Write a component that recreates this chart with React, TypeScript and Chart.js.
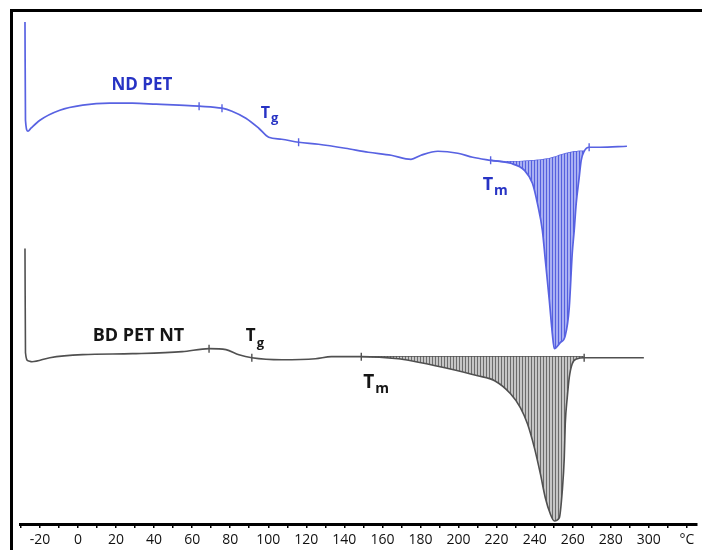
import React, { useEffect, useRef } from "react";
import { Chart, registerables } from "chart.js";

Chart.register(...registerables);

// ---- ND PET (blue) DSC curve: temperature (°C) and heat flow (arbitrary units, endo down)
const ndTemp = [
  -27.84, -27.58, -26.27, -24.71, -20.0, -9.54, 2.48, 16.6, 28.63, 41.18, 53.2, 63.66, 75.69,
  80.92, 88.24, 95.03, 100.26, 107.06, 115.95, 126.41, 140.52, 152.55, 164.58, 175.03, 180.26,
  189.15, 199.61, 207.45, 216.86, 227.32, 234.64, 238.82, 241.44, 244.05, 245.62, 247.71, 249.28,
  250.33, 253.46, 256.08, 258.17, 259.74, 260.78, 261.83, 263.4, 264.45, 266.01, 268.63, 274.38,
  288.5,
];
const ndHeat = [
  501, 403, 392, 395, 403, 413, 418, 420, 420, 419, 418, 417, 415,
  412, 405, 395, 386, 384, 381, 379, 375, 371, 368, 364, 368,
  372, 370, 366, 363, 360, 353, 340, 320, 293, 263, 223, 190,
  175, 181, 188, 216, 270, 293, 320, 346, 363, 372, 376, 376,
  377,
];
// integration baseline under the ND PET melting peak
const ndBaseTemp = [
  216.86, 227.32, 234.64, 238.82, 241.44, 244.05, 245.62, 247.71, 249.28, 250.33, 253.46, 256.08,
  258.17, 259.74, 260.78, 261.83, 263.4, 264.45, 266.01,
];
const ndBaseHeat = [
  363, 361.5, 362, 362.5, 363, 363.5, 364, 364.5, 365.5, 366, 368, 369.5,
  370.5, 371, 371.5, 371.5, 372, 372, 372,
];
const ndMarkTemp = [63.66, 75.69, 115.95, 216.86, 268.63];
const ndMarkHeat = [417, 415, 381, 363, 376];

// ---- BD PET NT (grey) DSC curve
const bdTemp = [
  -27.84, -27.58, -26.27, -24.18, -14.77, 2.48, 28.63, 54.77, 68.89, 77.78, 84.58, 91.37,
  107.06, 124.84, 133.2, 148.89, 168.24, 175.03, 192.81, 210.07, 218.95, 227.32, 232.55, 236.21,
  239.87, 243.01, 245.62, 248.24, 250.33, 252.94, 254.51, 255.56, 256.08, 257.12, 258.17, 259.74,
  262.35, 266.01, 279.61, 297.39,
];
const bdHeat = [
  275, 171, 163, 162, 166, 169, 170, 172, 175, 174, 169, 166,
  164, 165, 167, 167, 165, 163, 156, 148, 143, 130, 116, 100,
  76, 50, 26, 10, 3, 6, 33, 66, 100, 126, 146, 160,
  165, 166, 166, 166,
];
const bdBaseTemp = [
  148.89, 168.24, 175.03, 192.81, 210.07, 218.95, 227.32, 232.55, 236.21, 239.87, 243.01, 245.62,
  248.24, 250.33, 252.94, 254.51, 255.56, 256.08, 257.12, 258.17, 259.74, 262.35, 266.01,
];
const bdBaseHeat = [
  167, 167, 167, 167, 167, 167, 167, 167, 167, 167, 167, 167,
  167, 167, 167, 167, 167, 167, 167, 167, 167, 167, 167,
];
const bdMarkTemp = [68.89, 91.37, 148.89, 266.01];
const bdMarkHeat = [175, 166, 167, 166];

// ---- axis ticks
const tickTemps = [
  -30, -20, -10, 0, 10, 20, 30, 40, 50, 60, 70, 80, 90, 100, 110, 120, 130, 140, 150, 160, 170,
  180, 190, 200, 210, 220, 230, 240, 250, 260, 270, 280, 290, 300, 310, 320,
];
const labeledTemps = [-20, 0, 20, 40, 60, 80, 100, 120, 140, 160, 180, 200, 220, 240, 260, 280, 300];
const unitTemp = 320;
const unitLabel = "°C";

// ---- text annotations (data coordinates)
const BLUE_TEXT = "#2733c4";
const DARK_TEXT = "#151515";
const annotations = [
  { text: "ND PET", sub: "", t: 17.65, v: 433, color: BLUE_TEXT, size: 17, subSize: 0, drop: 0 },
  { text: "T", sub: "g", t: 96.08, v: 405, color: BLUE_TEXT, size: 16, subSize: 13, drop: 4 },
  { text: "T", sub: "m", t: 212.68, v: 333, color: BLUE_TEXT, size: 18, subSize: 14, drop: 5 },
  { text: "BD PET NT", sub: "", t: 7.71, v: 183, color: DARK_TEXT, size: 18, subSize: 0, drop: 0 },
  { text: "T", sub: "g", t: 88.24, v: 183, color: DARK_TEXT, size: 17, subSize: 13, drop: 6 },
  { text: "T", sub: "m", t: 149.93, v: 136, color: DARK_TEXT, size: 19, subSize: 14, drop: 5 },
];

const BLUE = "#5862e2";
const GREY = "#505050";
const FONT = '"Open Sans", "DejaVu Sans", sans-serif';

function pts(xs: number[], ys: number[]) {
  return xs.map((x, i) => ({ x, y: ys[i] }));
}

const labelPlugin = {
  id: "dscLabels",
  afterDatasetsDraw(chart: any) {
    const { ctx, scales } = chart;
    const xs = scales.x;
    const ys = scales.y;
    ctx.save();
    ctx.textAlign = "left";
    ctx.textBaseline = "alphabetic";
    annotations.forEach((a) => {
      const px = xs.getPixelForValue(a.t);
      const py = ys.getPixelForValue(a.v);
      ctx.fillStyle = a.color;
      ctx.font = `bold ${a.size}px ${FONT}`;
      ctx.fillText(a.text, px, py);
      if (a.sub) {
        const w = ctx.measureText(a.text).width;
        ctx.font = `bold ${a.subSize}px ${FONT}`;
        ctx.fillText(a.sub, px + w + 1, py + a.drop);
      }
    });
    ctx.restore();
  },
};

export default function App() {
  const ref = useRef<HTMLCanvasElement>(null);

  useEffect(() => {
    const canvas = ref.current!;
    const c2d = canvas.getContext("2d")!;
    const stripes = (bg: string, fg: string, period: number) => {
      const c = document.createElement("canvas");
      c.width = period;
      c.height = 8;
      const g = c.getContext("2d")!;
      g.fillStyle = bg;
      g.fillRect(0, 0, period, 8);
      g.fillStyle = fg;
      g.fillRect(0, 0, 1, 8);
      return c2d.createPattern(c, "repeat")!;
    };
    const bluePattern = stripes("#a9b0f3", "#5560de", 3);
    const greyPattern = stripes("#c6c6c6", "#6c6c6c", 3);

    const ndPts = pts(ndTemp, ndHeat);
    const ndPeak = ndPts.filter((p) => p.x >= ndBaseTemp[0] && p.x <= ndBaseTemp[ndBaseTemp.length - 1]);
    const bdPts = pts(bdTemp, bdHeat);
    const bdPeak = bdPts.filter((p) => p.x >= bdBaseTemp[0] && p.x <= bdBaseTemp[bdBaseTemp.length - 1]);

    const lineBase = {
      pointRadius: 0,
      pointHoverRadius: 0,
      cubicInterpolationMode: "monotone",
      fill: false,
    };

    const chart = new Chart(canvas, {
      type: "line",
      data: {
        datasets: [
          { ...lineBase, label: "ND PET", data: ndPts, borderColor: BLUE, borderWidth: 1.7 },
          {
            ...lineBase,
            label: "ND peak",
            data: ndPeak,
            borderColor: "rgba(0,0,0,0)",
            borderWidth: 0,
            backgroundColor: bluePattern,
            fill: 2,
          },
          { ...lineBase, label: "ND baseline", data: pts(ndBaseTemp, ndBaseHeat), borderColor: BLUE, borderWidth: 1.5 },
          { ...lineBase, label: "BD PET NT", data: bdPts, borderColor: GREY, borderWidth: 1.6 },
          {
            ...lineBase,
            label: "BD peak",
            data: bdPeak,
            borderColor: "rgba(0,0,0,0)",
            borderWidth: 0,
            backgroundColor: greyPattern,
            fill: 5,
          },
          { ...lineBase, label: "BD baseline", data: pts(bdBaseTemp, bdBaseHeat), borderColor: GREY, borderWidth: 1.4 },
          {
            label: "ND marks",
            data: pts(ndMarkTemp, ndMarkHeat),
            showLine: false,
            pointStyle: "line",
            rotation: 90,
            pointRadius: 4,
            borderColor: BLUE,
            borderWidth: 1.4,
          },
          {
            label: "BD marks",
            data: pts(bdMarkTemp, bdMarkHeat),
            showLine: false,
            pointStyle: "line",
            rotation: 90,
            pointRadius: 4,
            borderColor: GREY,
            borderWidth: 1.4,
          },
        ],
      },
      options: {
        responsive: false,
        maintainAspectRatio: false,
        animation: false,
        devicePixelRatio: 1,
        events: [],
        layout: { padding: { left: 20, right: 2, top: 11, bottom: -2.8 } },
        plugins: { legend: { display: false }, tooltip: { enabled: false }, title: { display: false } },
        scales: {
          x: {
            type: "linear",
            min: -30.458,
            max: 325.098,
            afterBuildTicks: (s: any) => {
              s.ticks = tickTemps.map((v) => ({ value: v }));
            },
            ticks: {
              autoSkip: false,
              maxRotation: 0,
              minRotation: 0,
              padding: 4,
              color: "#111",
              font: { family: FONT, size: 14 },
              callback: (v: any) => {
                const n = Number(v);
                if (labeledTemps.includes(n)) return String(n);
                if (n === unitTemp) return unitLabel;
                return "";
              },
            },
            grid: {
              display: true,
              drawOnChartArea: false,
              drawTicks: true,
              tickLength: 4,
              color: "#000",
              lineWidth: 1.5,
            },
            border: { display: true, color: "#000", width: 3 },
          },
          y: { type: "linear", display: false, min: 0, max: 512 },
        },
      },
      plugins: [labelPlugin],
    } as any);
    return () => chart.destroy();
  }, []);

  return (
    <div style={{ position: "absolute", left: 0, top: 0, width: 702, height: 550, background: "#fff" }}>
      <canvas
        ref={ref}
        width={702}
        height={550}
        style={{ position: "absolute", left: 0, top: 0, width: 702, height: 550 }}
      />
      <div
        style={{
          position: "absolute",
          left: 10,
          top: 9,
          right: 0,
          bottom: 0,
          borderLeft: "3px solid #000",
          borderTop: "3px solid #000",
          pointerEvents: "none",
        }}
      />
    </div>
  );
}
